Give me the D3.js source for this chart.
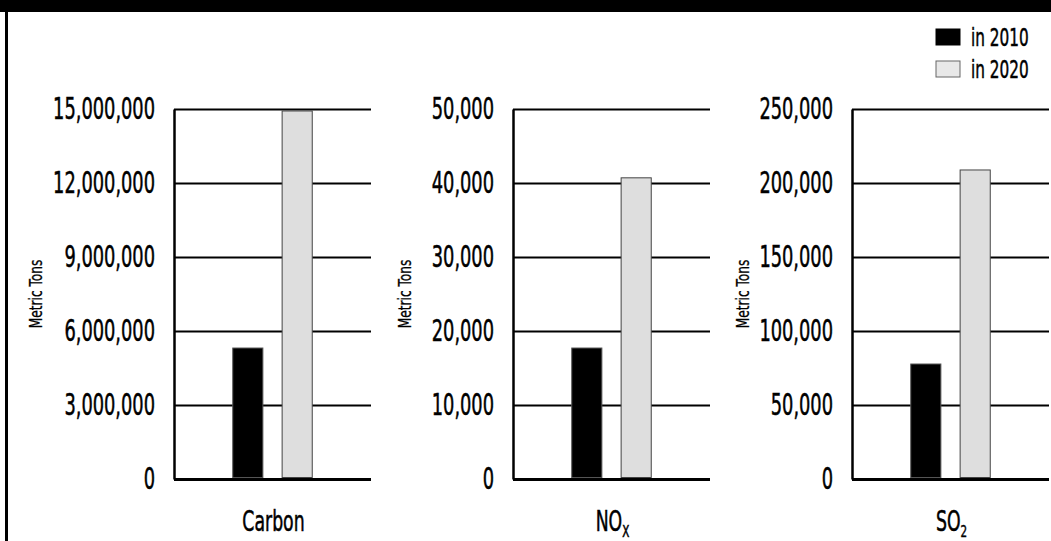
<!DOCTYPE html>
<html>
<head>
<meta charset="utf-8">
<script src="https://cdn.jsdelivr.net/npm/d3@7"></script>
<style>
    body { margin: 0; background: #fff; }
    svg { display: block; }
    text { stroke: #000; stroke-width: 0.5px; }
</style>
</head>
<body>
<svg id="chart" width="1051" height="541"></svg>
<script>
const pollutants = ["Carbon", "NOx", "SO2"];
const years = ["in 2010", "in 2020"];
const values2010 = [5310000, 17700, 77700];
const values2020 = [14920000, 40700, 208800];
const axisMax = [15000000, 50000, 250000];
const tickValues = [
    [0, 3000000, 6000000, 9000000, 12000000, 15000000],
    [0, 10000, 20000, 30000, 40000, 50000],
    [0, 50000, 100000, 150000, 200000, 250000],
];
const labelParts = [
    ["Carbon", ""],
    ["NO", "X"],
    ["SO", "2"],
];

// condensed face, squeezed further to get the tall narrow look
const FONT = "'DejaVu Sans Condensed', 'DejaVu Sans', sans-serif";
const TICK_SQUEEZE = 0.66;
const LABEL_SQUEEZE = 0.7;
const yearColors = { "in 2010": "#000", "in 2020": "#dedede" };
const yearStroke = { "in 2010": "#555", "in 2020": "#444" };
// distance of the "Metric Tons" title from each axis line
const titleGap = [132, 102, 103];

const svg = d3.select("#chart");
const width = 1051;
const height = 541;
const panelWidth = 197;
const plotTop = 109;
const plotBottom = 479;

// frame: black band on top, rule on the left
svg.append("rect").attr("x", 0).attr("y", 0).attr("width", width).attr("height", 12).attr("fill", "#000");
svg.append("rect").attr("x", 5).attr("y", 0).attr("width", 3).attr("height", height).attr("fill", "#000");

const panelX = d3.scaleBand()
    .domain(pollutants)
    .range([174, 174 + 339 * pollutants.length]);

const barX = d3.scaleBand()
    .domain(years)
    .range([0, panelWidth])
    .paddingInner(0.39)
    .paddingOuter(1.19);

pollutants.forEach((name, i) => {
    const g = svg.append("g").attr("transform", `translate(${panelX(name)},0)`);

    const y = d3.scaleLinear()
        .domain([0, axisMax[i]])
        .range([plotBottom, plotTop]);

    const axis = g.append("g")
        .call(d3.axisLeft(y)
            .tickValues(tickValues[i])
            .tickSize(-panelWidth)
            .tickSizeOuter(0)
            .tickPadding(19)
            .tickFormat(d3.format(",")));

    axis.attr("font-family", FONT).attr("font-size", 30);
    axis.select(".domain").attr("stroke", "#000").attr("stroke-width", 2.5);
    axis.selectAll(".tick line")
        .attr("stroke", "#000")
        .attr("stroke-width", (d) => (d === 0 ? 3 : 2));
    axis.selectAll(".tick text")
        .attr("fill", "#000")
        .attr("x", -19 / TICK_SQUEEZE)
        .attr("transform", `scale(${TICK_SQUEEZE},1)`);

    const rows = [
        { year: years[0], value: values2010[i] },
        { year: years[1], value: values2020[i] },
    ];

    g.selectAll("rect.bar")
        .data(rows)
        .enter()
        .append("rect")
        .attr("class", "bar")
        .attr("x", (d) => barX(d.year))
        .attr("y", (d) => y(d.value))
        .attr("width", barX.bandwidth())
        .attr("height", (d) => plotBottom - 1.5 - y(d.value))
        .attr("fill", (d) => yearColors[d.year])
        .attr("stroke", (d) => yearStroke[d.year])
        .attr("stroke-width", 1);

    // y title
    g.append("text")
        .attr("transform", `translate(${-titleGap[i]},${(plotTop + plotBottom) / 2}) rotate(-90) scale(0.8,1)`)
        .attr("text-anchor", "middle")
        .attr("font-family", FONT)
        .attr("font-size", 17)
        .style("stroke-width", "0.3px")
        .text("Metric Tons");

    // category label with subscript
    const label = g.append("text")
        .attr("transform", `translate(${panelWidth / 2 + 1},530.5) scale(${LABEL_SQUEEZE},1)`)
        .attr("text-anchor", "middle")
        .attr("font-family", FONT)
        .attr("font-size", 27.5);
    label.append("tspan").text(labelParts[i][0]);
    if (labelParts[i][1]) {
        label.append("tspan")
            .attr("font-size", 16.5)
            .attr("dy", 6)
            .text(labelParts[i][1]);
    }
});

// legend
const legend = svg.append("g").attr("transform", "translate(936,29)");
years.forEach((yr, i) => {
    const row = legend.append("g").attr("transform", `translate(0,${i * 32})`);
    row.append("rect")
        .attr("width", 24)
        .attr("height", 16)
        .attr("fill", i === 0 ? yearColors[yr] : "#e8e8e8")
        .attr("stroke", i === 0 ? "#000" : "#666")
        .attr("stroke-width", 1);
    row.append("text")
        .attr("transform", `translate(35,16.5) scale(0.68,1)`)
        .attr("font-family", FONT)
        .attr("font-size", 25)
        .text(yr);
});
</script>
</body>
</html>
